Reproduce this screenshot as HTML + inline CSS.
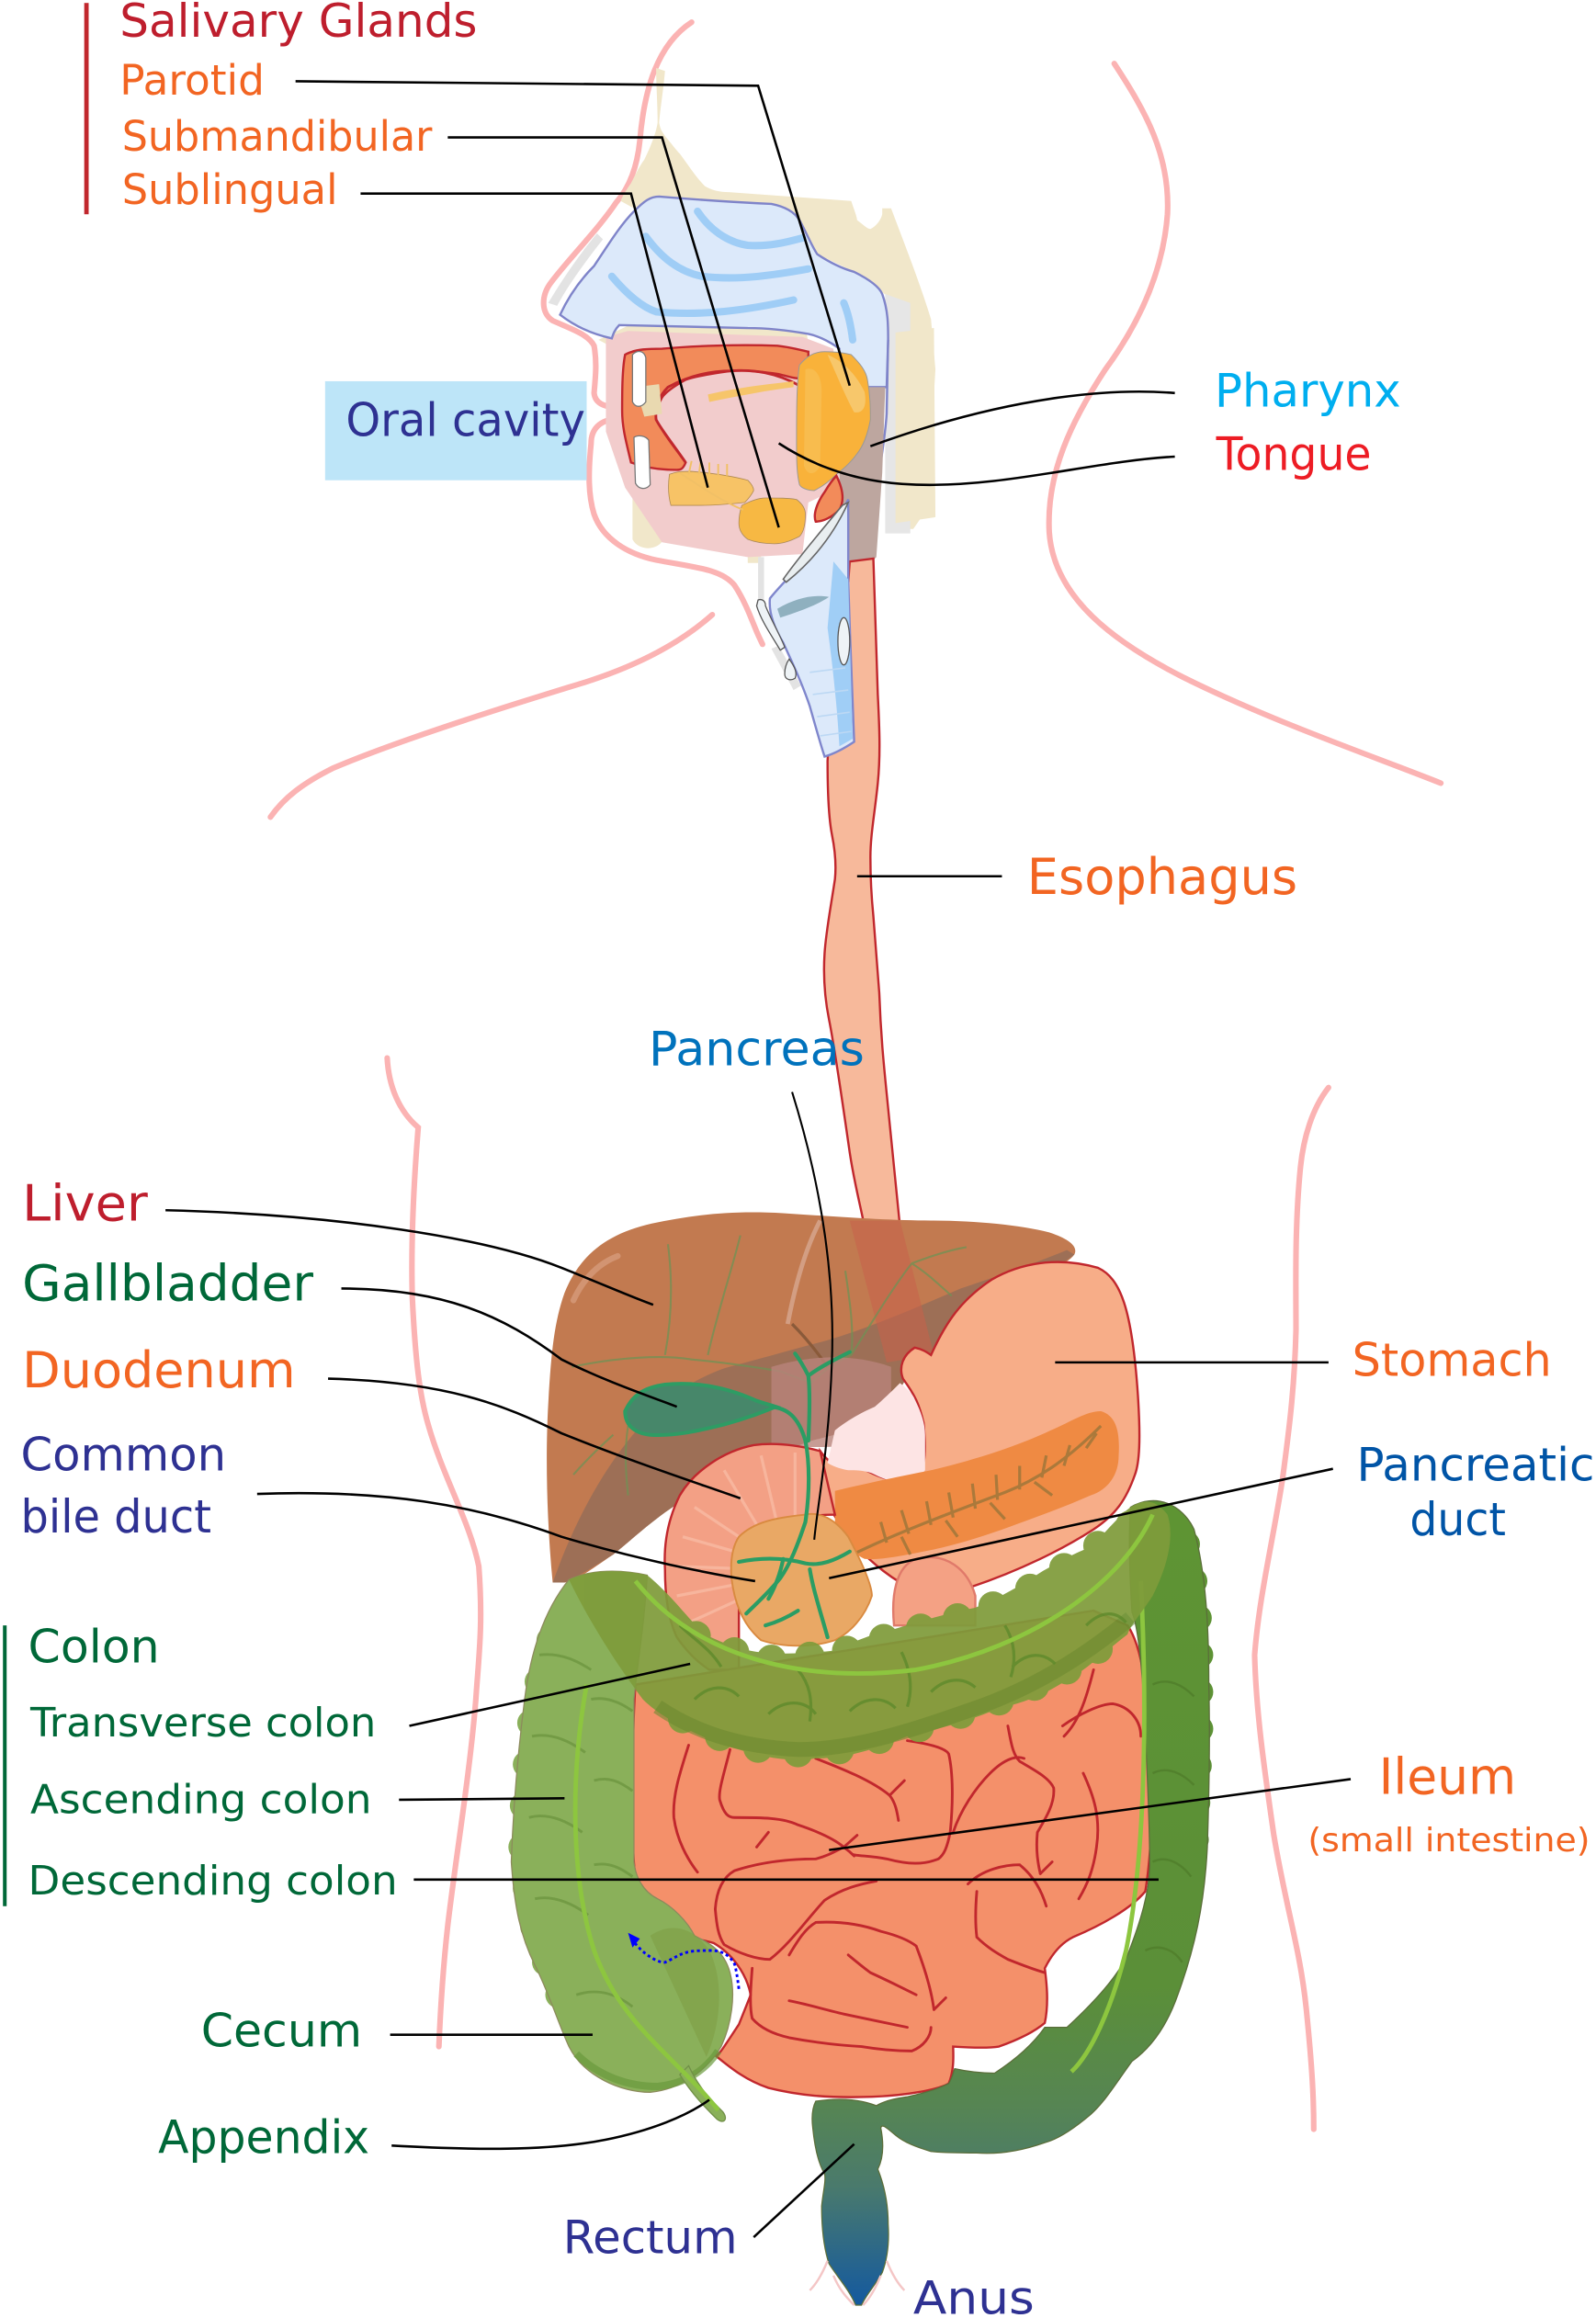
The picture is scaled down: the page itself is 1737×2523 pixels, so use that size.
<!DOCTYPE html>
<html><head><meta charset="utf-8">
<style>html,body{margin:0;padding:0;background:#fff;}svg{display:block}</style>
</head><body>
<svg xmlns="http://www.w3.org/2000/svg" width="1737" height="2523" viewBox="0 0 1080 1568.7" font-family="'DejaVu Sans','Liberation Sans',sans-serif">
<defs>
<linearGradient id="sig" gradientUnits="userSpaceOnUse" x1="0" y1="1020" x2="0" y2="1560">
<stop offset="0" stop-color="#5e9433"/>
<stop offset="0.6" stop-color="#5b8f38"/>
<stop offset="0.75" stop-color="#568553"/>
<stop offset="0.85" stop-color="#4a7a6c"/>
<stop offset="1" stop-color="#14599f"/>
</linearGradient>
</defs>

<!-- ===== body outlines ===== -->
<g fill="none" stroke="#fbb3b3" stroke-width="3.8" stroke-linecap="round">
<path d="M468,15 C445,30 436,60 433,95 C431,115 425,128 417,137 C405,155 385,175 373,191 C366,200 366,212 374,217 C385,222 398,226 402,234 C404,245 403,255 402,266 C403,276 415,275 419,277"/>
<path d="M419,283 C405,284 400,291 400,300 C398,320 398,335 402,348 C408,365 425,375 444,379 C470,384 488,385 497,396 C503,405 507,415 511,425 C513,430 515,434 516,436"/>
<path d="M482,416 C455,440 420,455 385,465 C320,485 260,505 225,520 C205,530 192,540 183,553"/>
<path d="M754,43 C775,75 792,105 790,145 C787,185 770,220 748,250 C725,285 708,320 710,360 C713,405 755,435 800,458 C860,488 930,512 975,530"/>
<path d="M262,716 C263,735 270,752 283,763 C280,800 278,840 279,878 C281,920 284,945 290,965 C300,1000 318,1030 324,1060 C327,1100 324,1120 322,1150 C318,1200 308,1260 303,1303 C300,1330 298,1360 297,1385"/>
<path d="M899,736 C888,750 882,770 880,790 C876,830 877,870 877,900 C876,940 872,970 868,1000 C862,1040 852,1080 849,1120 C850,1160 856,1200 862,1242 C870,1290 880,1320 884,1360 C888,1400 889,1420 889,1441"/>
</g>

<!-- ===== head ===== -->
<g fill="#f1e7ca">
<path d="M444,46 L450,48 C449,60 447,72 446,83 C447,88 448,89 450,92 C455,98 458,102 460,104 C466,112 471,120 477,126 C482,129 487,130 493,130 L576,136 C578,142 580,147 580,149 C584,152 587,155 589,155 C593,153 596,149 597,145 L597,141 L603,141 C612,165 622,190 630,216 L633,250 L630,300 L627,345 L618,358 L602,358 L600,200 L578,184 L553,172 L541,149 L522,138 L464,136 L446,133 L429,141 L420,136 C422,131 425,127 427,124 C430,118 433,112 436,108 C440,100 444,90 445,83 C445,70 444,58 444,46 Z"/>
<path d="M405,230 L430,218 L545,222 L548,236 L420,238 Z"/>
<path d="M428,320 L446,318 L449,365 C445,373 432,373 428,365 Z"/>
<path d="M506,367 L515,367 L515,381 L506,381 Z"/>
</g>
<path d="M371,205 C380,190 392,172 404,158 L408,162 C397,176 385,192 377,207 Z" fill="#e3e3e3"/>
<path d="M599,199 L616,205 L616,361 L599,361 Z" fill="#e6e6e6"/>
<path d="M606,225 L632,222 L633,350 L606,354 Z" fill="#f1e7ca"/>
<path d="M410,228 L425,224 L543,228 L564,236 L568,330 L547,340 L543,375 L506,377 L448,367 L423,330 L410,292 Z" fill="#f2cccc"/>
<path d="M379,213 C386,198 395,187 402,180 C412,165 420,152 429,143 C436,136 440,133 446,133 C470,135 500,137 522,138 C532,140 538,144 541,149 C546,158 549,166 553,172 C562,178 571,182 578,184 C588,189 595,194 597,199 C601,210 601,220 601,230 L600,262 L568,262 C566,250 567,242 568,236 C560,230 552,227 547,226 C530,223 515,222 506,222 L419,220 C416,223 415,226 414,229 C400,226 388,220 379,213 Z" fill="#dce9fa" stroke="#7f84c9" stroke-width="1.5"/>
<path d="M601,230 L600,280 C599,295 597,305 595,320 L591,377" fill="none" stroke="#7f84c9" stroke-width="1.5"/>
<g fill="none" stroke="#9fcdf6" stroke-width="5" stroke-linecap="round">
<path d="M472,143 C480,155 492,164 506,166 C520,167 532,164 543,161"/>
<path d="M437,160 C448,175 460,184 475,187 C500,190 525,186 547,182"/>
<path d="M414,187 C425,200 435,208 444,211 C475,214 505,210 537,203"/>
<path d="M571,205 C574,212 576,222 577,230"/>
</g>
<path d="M568,262 L599,262 L597,320 L593,377 C585,385 578,392 574,398 C570,390 566,380 565,372 L568,330 Z" fill="#bda69f"/>
<path d="M423,240 C430,236 440,236 448,236 C470,234 500,233 526,234 C535,235 542,237 547,238 L547,255 C540,258 532,254 526,253 C510,251 500,250 495,251 C480,253 470,255 464,257 C455,262 450,266 448,269 C445,275 443,280 444,284 C450,295 458,305 464,313 C462,318 460,318 458,318 C445,318 435,316 427,313 C424,300 421,290 421,278 C421,265 421,250 423,240 Z" fill="#f28b5a" stroke="#c1272d" stroke-width="1.5"/>
<path d="M464,313 C455,300 447,290 444,284 C443,275 446,268 452,262 C465,255 480,251 495,251 C510,250 525,252 541,261" fill="none" stroke="#c1272d" stroke-width="1.8"/>
<path d="M430,262 L446,260 L448,280 L436,282 Z" fill="#e9d9b0"/>
<path d="M479,267 C500,262 520,260 537,258 L537,262 C520,264 500,268 480,272 Z" fill="#f6c56a"/>
<path d="M428,240 C432,236 436,238 437,242 L437,272 C434,276 430,276 428,272 Z" fill="#fff" stroke="#777" stroke-width="0.8"/>
<path d="M429,296 C432,294 437,295 439,298 L440,328 C437,332 432,331 430,327 Z" fill="#fff" stroke="#777" stroke-width="0.8"/>
<path d="M541,247 C546,241 551,238 558,238 C566,238 572,239 576,240 C582,246 586,251 587,257 C589,268 589,276 589,284 C587,295 584,302 580,307 C575,314 570,318 566,321 C560,327 555,330 551,332 C546,332 542,330 541,328 C539,320 539,310 539,298 C539,280 539,260 541,247 Z" fill="#f9b23a" stroke="#999" stroke-width="0.6"/>
<path d="M560,240 C572,245 580,255 585,265 C587,275 584,280 578,279 C573,270 568,258 560,240 Z" fill="#f7c76b"/>
<path d="M545,250 C550,248 556,252 556,265 L555,315 C552,322 546,322 544,315 Z" fill="#f8c157" opacity="0.7"/>
<path d="M453,321 C458,319 463,319 468,319 C480,320 495,322 506,325 C509,328 510,330 510,332 C508,336 506,338 504,340 C495,341 485,342 473,342 C465,342 458,342 454,342 C452,335 452,328 453,321 Z" fill="#f7c366" stroke="#b08a50" stroke-width="0.5"/>
<path d="M502,342 C508,339 513,337 518,337 C527,337 533,337 539,338 C543,341 545,344 545,348 C545,355 544,360 541,363 C535,366 530,368 524,368 C517,368 511,367 506,365 C502,362 500,358 500,354 C500,350 501,345 502,342 Z" fill="#f7b843" stroke="#a98a60" stroke-width="0.5"/>
<g stroke="#f1c066" stroke-width="1.2" fill="none">
<path d="M468,312 L466,321 M474,313 L473,321 M480,313 L480,321 M486,314 L486,322 M492,314 L492,322"/>
<path d="M460,320 C475,330 490,340 503,345"/>
</g>
<path d="M566,322 C570,330 572,338 568,345 C563,350 557,353 552,353 C550,348 553,340 558,333 C561,328 564,324 566,322 Z" fill="#f28b5a" stroke="#c1272d" stroke-width="1.5"/>
<path d="M513,377 L517,377 L517,406 L513,406 Z M522,439 L527,437 L542,464 L537,467 Z" fill="#e3e3e3"/>
<!-- esophagus -->
<path d="M575,380 L591,378 L594,470 C595,490 596,510 594,530 C592,550 589,565 589,580 C589,598 590,610 591,620 C593,645 594,660 595,672 C596,700 598,720 600,740 C603,770 606,800 609,830 L585,830 C582,815 578,800 575,780 C570,745 565,710 561,690 C558,675 557,660 558,645 C559,630 562,615 565,595 C566,585 565,575 563,565 C561,555 560,540 560,515 C562,480 565,450 568,430 C570,410 572,400 574,394 Z" fill="#f7b99b" stroke="#c1272d" stroke-width="1.5"/>
<path d="M567,394 L575,394 L575,456 L567,456 Z" fill="#f2cccc"/>
<!-- trachea -->
<path d="M574,338 C568,350 560,362 548,375 C538,387 528,396 521,405 C520,415 524,425 530,435 C536,448 543,463 548,478 C552,492 555,503 558,512 C565,510 572,506 578,502 C577,470 575,430 574,394 Z" fill="#dce9fa" stroke="#7f86cc" stroke-width="1.5"/>
<path d="M564,380 L574,392 L577,500 L568,505 C566,470 562,440 560,425 Z" fill="#a0cef6"/>
<path d="M526,412 C538,405 550,402 561,404 C552,410 540,414 528,418 Z" fill="#8fb0bf"/>
<g fill="none" stroke="#bcd8f4" stroke-width="1">
<path d="M548,455 L572,452 M550,470 L574,467 M553,485 L575,482 M555,498 L576,495"/>
</g>
<path d="M530,392 C540,378 555,360 570,342 L574,340 C565,360 552,378 532,394 Z" fill="#e9eef0" stroke="#666" stroke-width="1"/>
<path d="M513,406 C516,405 518,407 518,410 C522,420 528,430 531,438 L528,440 C522,430 515,420 512,410 Z" fill="#eef3f6" stroke="#555" stroke-width="0.8"/>
<path d="M534,446 C537,450 540,455 538,459 C535,461 531,460 531,456 C531,452 532,449 534,446 Z" fill="#eef3f6" stroke="#555" stroke-width="0.8"/>
<ellipse cx="571" cy="434" rx="4" ry="16" fill="#eef3f6" stroke="#555" stroke-width="0.8"/>

<!-- ===== abdomen ===== -->
<path d="M374,1071 C370,1030 369,985 371,950 C373,915 375,895 382,875 C392,850 410,835 441,828 C470,822 495,819 530,821 C560,823 600,826 630,826 C660,826 690,829 710,834 C722,838 730,843 727,849 C722,856 705,862 690,868 C665,880 645,895 630,917 L612,935 L600,955 L576,968 L549,975 L522,985 C500,995 485,1005 468,1012 C445,1025 430,1040 415,1052 C400,1062 390,1070 382,1071 Z" fill="#c27a50"/>
<path d="M722,846 C700,855 680,862 650,872 C620,885 590,898 560,907 C530,915 505,922 490,926 C465,935 445,950 425,975 C405,1000 390,1030 380,1055 L374,1071 L382,1071 C395,1065 405,1058 415,1052 C430,1040 445,1025 468,1012 C485,1005 500,995 522,985 L549,975 L576,968 L600,955 L612,935 L630,917 C645,895 665,880 690,868 C705,862 720,855 727,849 Z" fill="#9d6f56"/>
<path d="M388,880 C395,865 405,855 418,850" fill="none" stroke="#d9a080" stroke-width="4" stroke-linecap="round" opacity="0.7"/>
<path d="M575,826 L609,826 L632,917 L600,922 Z" fill="#c8604a" opacity="0.55"/>
<g fill="none" stroke="#6f9255" stroke-width="1.3" opacity="0.75">
<path d="M387,925 C420,918 450,917 468,920 C490,922 510,925 528,928 L549,936"/>
<path d="M450,917 C455,890 455,865 452,842"/>
<path d="M479,917 C485,890 495,860 501,836"/>
<path d="M549,936 C560,925 570,920 576,917 C590,895 605,870 617,855 C630,850 642,846 654,844"/>
<path d="M617,855 C628,862 636,870 644,877"/>
<path d="M415,971 C405,980 395,990 388,998"/>
<path d="M425,965 C422,985 424,1000 425,1012"/>
<path d="M576,917 C578,900 575,880 572,860"/>
</g>
<path d="M533,896 C538,870 545,845 555,826" fill="none" stroke="#d7a890" stroke-width="3" opacity="0.8"/>
<path d="M536,896 C545,905 553,915 560,925" fill="none" stroke="#8a5a3a" stroke-width="2"/>
<path d="M522,925 C545,918 575,915 603,925 L603,975 C580,980 545,980 522,978 Z" fill="#b9837a" opacity="0.8"/>
<!-- stomach -->
<path d="M630,917 C640,895 650,880 671,866 C690,855 715,850 743,858 C758,865 766,885 770,944 C772,975 771,990 768,998 C762,1015 755,1025 740,1035 C720,1048 690,1063 657,1074 C640,1078 628,1078 619,1076 C605,1070 590,1058 578,1045 C570,1035 565,1025 555,1012 L555,982 C563,993 571,995 582,993 C590,997 598,1002 617,1004 C626,998 627,985 625,963 C622,950 619,944 611,933 C608,925 611,917 619,912 C624,913 627,915 630,917 Z" fill="#f7ad88" stroke="#c1272d" stroke-width="1.5"/>
<path d="M565,968 C575,960 585,955 592,952 C600,945 605,940 609,936 C614,940 618,944 619,947 C623,955 626,963 626,971 L626,995 C622,1000 616,1004 611,1004 C603,1003 596,1000 590,997 C584,995 579,995 574,995 C568,994 563,992 560,990 Z" fill="#fde4e4"/>
<path d="M565,1009 C590,1003 610,999 630,995 C660,988 690,978 711,968 C725,962 735,955 745,955 C755,958 758,968 757,985 C757,998 750,1008 738,1012 C720,1020 700,1027 684,1033 C665,1040 645,1046 630,1049 C610,1053 595,1056 585,1055 C575,1050 568,1040 565,1030 Z" fill="#ef8a43"/>
<g fill="none" stroke="#a0773a" stroke-width="2" opacity="0.85">
<path d="M571,1055 C600,1040 640,1025 680,1010 C705,1000 725,985 745,965"/>
<path d="M600,1044 L596,1030 M615,1038 L610,1022 M630,1032 L627,1016 M645,1027 L642,1010 M660,1021 L658,1004 M675,1015 L674,998 M690,1008 L690,992 M705,1000 L708,985 M720,992 L724,978 M735,980 L742,970 M610,1040 L616,1052 M640,1029 L648,1040 M670,1017 L680,1028 M700,1003 L712,1012"/>
</g>
<path d="M605,1100 C603,1080 606,1060 620,1055 C640,1050 655,1062 660,1080 L660,1100 Z" fill="#f4a184" stroke="#e07a6a" stroke-width="1.5"/>
<!-- duodenum -->
<path d="M555,982 C540,978 525,976 510,978 C490,982 470,995 460,1012 C452,1028 449,1045 450,1062 C450,1080 452,1095 458,1108 C465,1118 472,1125 480,1130 L500,1130 L500,1060 C505,1045 515,1035 530,1030 C545,1026 555,1025 565,1025 Z" fill="#f3a085" stroke="#c1272d" stroke-width="1.5"/>
<g stroke="#f8bba3" stroke-width="2" opacity="0.8">
<path d="M515,1050 L470,1020 M515,1055 L462,1040 M512,1062 L458,1060 M510,1070 L458,1080 M510,1078 L462,1100 M520,1045 L490,995 M528,1040 L515,985 M538,1035 L538,983"/>
</g>
<path d="M500,1040 C510,1030 525,1027 545,1025 C555,1023 565,1028 574,1040 C582,1055 590,1072 590,1080 C585,1095 575,1105 565,1110 C550,1115 530,1115 515,1110 C503,1100 497,1085 495,1068 C494,1055 496,1046 500,1040 Z" fill="#e9a865" stroke="#d98a40" stroke-width="1.2"/>
<path d="M423,955 C428,944 436,939 450,937 C470,935 490,938 512,948 C518,950 522,951 525,952 C515,956 505,960 490,964 C470,969 455,972 440,971 C430,970 423,965 423,955 Z" fill="#47876a" stroke="#2e9c64" stroke-width="2.5"/>
<g fill="none" stroke="#2a9d64" stroke-width="2.6" stroke-linecap="round">
<path d="M522,952 C532,953 540,958 545,975 C548,990 548,1010 545,1030 C540,1045 535,1058 528,1068 C520,1078 512,1085 505,1092"/>
<path d="M547,975 C548,955 548,940 547,931 C544,925 541,920 538,916"/>
<path d="M547,931 C555,925 565,920 575,915"/>
<path d="M500,1057 C515,1054 530,1054 545,1058 C555,1060 565,1056 575,1050"/>
<path d="M530,1055 C528,1065 524,1075 520,1082"/>
<path d="M548,1062 C550,1075 555,1090 560,1108"/>
<path d="M540,1090 C532,1095 525,1098 518,1100"/>
</g>

<!-- small intestine -->
<path d="M430,1140 C428,1170 428,1200 428,1230 C428,1260 430,1290 440,1305 C455,1310 470,1311 483,1315 C495,1322 505,1335 508,1350 L500,1370 C490,1385 486,1392 484,1391 C495,1400 505,1408 520,1413 C540,1418 560,1420 590,1419 C615,1418 635,1414 642,1410 C646,1400 645,1390 645,1385 C660,1386 670,1386 676,1385 C690,1380 700,1375 707,1369 C710,1355 708,1340 707,1332 C712,1322 718,1315 726,1311 C745,1303 765,1292 775,1280 C780,1250 781,1200 778,1168 C775,1130 770,1110 763,1100 L740,1090 L430,1140 Z" fill="#f4906a" stroke="#c1272d" stroke-width="1.5"/>
<g fill="none" stroke="#c1272d" stroke-width="1.8" stroke-linecap="round">
<path d="M466,1181 C460,1200 455,1215 456,1230 C458,1245 465,1258 472,1267"/>
<path d="M494,1184 C490,1200 486,1212 487,1218 C490,1228 493,1230 497,1230 C515,1230 530,1230 540,1235 C555,1240 565,1245 571,1250 C575,1253 577,1255 578,1256"/>
<path d="M552,1190 C570,1197 590,1205 602,1215 C606,1220 607,1226 608,1232"/>
<path d="M614,1178 C628,1180 640,1183 642,1187 C645,1200 645,1220 643,1240 C641,1250 639,1255 635,1258 C625,1262 615,1262 600,1258 C590,1256 580,1256 577,1255"/>
<path d="M682,1168 C684,1178 685,1187 690,1192 C700,1198 710,1203 713,1210 C714,1220 708,1230 702,1240 C701,1250 702,1260 704,1268"/>
<path d="M719,1168 C730,1160 745,1153 753,1153 C765,1155 772,1165 772,1175"/>
<path d="M484,1292 C485,1278 490,1270 497,1266 C515,1260 535,1258 552,1258 C560,1256 565,1253 571,1250"/>
<path d="M484,1292 C485,1303 486,1310 490,1316 C500,1322 512,1326 521,1326 C535,1315 545,1300 558,1286 C570,1278 582,1275 593,1273"/>
<path d="M534,1323 C540,1313 545,1305 552,1301 C570,1300 585,1303 596,1307 C608,1310 615,1313 620,1317 C625,1330 630,1345 632,1360"/>
<path d="M509,1332 C508,1345 507,1357 509,1366 C515,1373 525,1377 534,1379 C550,1382 565,1384 583,1385 C595,1387 608,1388 617,1388 C625,1385 630,1378 630,1372"/>
<path d="M534,1354 C545,1356 558,1360 571,1363 C585,1366 600,1369 614,1372"/>
<path d="M661,1280 C660,1292 660,1303 661,1311 C668,1318 675,1322 682,1326 C692,1330 700,1333 707,1335"/>
<path d="M574,1323 C580,1328 585,1332 589,1335 C600,1340 610,1345 620,1350"/>
<path d="M645,1240 C650,1225 660,1210 670,1200 C680,1190 688,1188 693,1190"/>
<path d="M733,1200 C740,1215 745,1230 742,1250 C740,1265 736,1275 730,1285"/>
<path d="M740,1130 C735,1150 730,1165 720,1175"/>
<path d="M655,1275 C665,1265 680,1262 690,1262 C700,1270 705,1280 708,1290"/>
<path d="M602,1215 L612,1205 M571,1250 L580,1242 M632,1360 L640,1352 M704,1268 L712,1260 M520,1240 L512,1250"/>
</g>

<!-- ascending colon + cecum -->
<g fill="#8ab05a">
<circle cx="385" cy="1085" r="9"/><circle cx="372" cy="1110" r="9"/><circle cx="364" cy="1138" r="9"/>
<circle cx="359" cy="1166" r="9"/><circle cx="356" cy="1194" r="9"/><circle cx="354" cy="1222" r="9"/>
<circle cx="353" cy="1250" r="9"/><circle cx="356" cy="1278" r="9"/><circle cx="361" cy="1304" r="9"/>
<circle cx="369" cy="1328" r="9"/><circle cx="378" cy="1350" r="9"/>
</g>
<path d="M385,1069 C372,1085 360,1110 355,1150 C350,1190 347,1230 346,1260 C348,1290 352,1310 362,1330 C372,1350 378,1370 385,1385 C395,1405 420,1416 440,1416 C460,1414 478,1402 488,1385 C495,1370 498,1350 494,1335 C490,1320 480,1315 470,1310 C465,1300 455,1290 445,1285 C435,1280 430,1270 429,1260 L429,1150 C432,1120 436,1100 438,1066 C420,1062 400,1062 385,1069 Z" fill="#8ab05a" stroke="#8c8a5c" stroke-width="0.8"/>
<g fill="none" stroke="#6e9842" stroke-width="1.8" opacity="0.85">
<path d="M365,1120 C380,1118 392,1125 400,1130 M360,1175 C375,1172 388,1180 396,1186 M358,1230 C372,1226 386,1234 394,1240 M362,1285 C376,1282 390,1290 398,1296 M400,1150 C410,1148 420,1152 428,1158 M402,1205 C412,1202 420,1206 428,1212 M402,1262 C412,1260 420,1264 428,1270 M390,1350 C405,1345 418,1350 428,1358"/>
</g>
<path d="M390,1390 C405,1405 425,1412 445,1412 C465,1410 478,1400 486,1388" fill="none" stroke="#6a9a3c" stroke-width="5" opacity="0.7"/>
<path d="M440,1310 C455,1300 470,1305 480,1320 C490,1340 488,1370 478,1392" fill="#7f9f45" opacity="0.6"/>
<path d="M466,1398 C473,1413 481,1421 489,1429 C493,1434 490,1438 485,1434 C477,1426 469,1418 460,1404 Z" fill="#8ab05a" stroke="#718f48" stroke-width="0.8"/>

<!-- descending + sigmoid + rectum -->
<g fill="url(#sig)">
<circle cx="803" cy="1045" r="9"/><circle cx="808" cy="1070" r="9"/><circle cx="811" cy="1095" r="9"/>
<circle cx="812" cy="1120" r="9"/><circle cx="812" cy="1145" r="9"/><circle cx="812" cy="1170" r="9"/>
<circle cx="811" cy="1195" r="9"/><circle cx="810" cy="1220" r="9"/><circle cx="809" cy="1245" r="9"/>
<circle cx="806" cy="1270" r="9"/><circle cx="801" cy="1295" r="9"/><circle cx="795" cy="1320" r="9"/>
</g>
<path d="M765,1020 C782,1010 800,1018 808,1035 C816,1065 818,1100 818,1140 C819,1180 818,1220 817,1250 C815,1290 808,1320 797,1350 C790,1370 780,1385 766,1395 C755,1410 748,1422 738,1431 C725,1442 715,1448 707,1450 C690,1456 675,1458 661,1457 C650,1457 640,1457 630,1456 C620,1453 612,1450 606,1445 C600,1440 597,1437 596,1440 C598,1450 598,1460 594,1468 C598,1478 601,1490 601,1505 C602,1520 600,1530 597,1538 C592,1547 586,1553 583,1560 L579,1560 C575,1550 566,1540 561,1532 C557,1520 556,1505 556,1493 C557,1483 559,1476 558,1471 C553,1463 551,1450 550,1440 C549,1432 550,1426 552,1422 C565,1420 580,1420 593,1425 C600,1421 608,1420 614,1419 C628,1416 636,1413 642,1410 C645,1405 645,1402 646,1400 C655,1402 665,1403 673,1403 C690,1392 700,1382 707,1372 C712,1372 717,1372 722,1372 C735,1360 755,1340 763,1323 C772,1300 778,1280 778,1261 C778,1230 776,1200 775,1168 C773,1130 770,1100 766,1091 C764,1060 764,1035 765,1020 Z" fill="url(#sig)" stroke="#5b6e3a" stroke-width="0.8"/>
<path d="M772,1070 C776,1150 776,1250 762,1320 C752,1360 738,1390 725,1402" fill="none" stroke="#8dc63f" stroke-width="3"/>
<path d="M780,1140 C790,1135 800,1140 808,1148 M780,1200 C790,1195 800,1200 808,1208 M780,1260 C790,1255 800,1262 806,1270 M775,1320 C785,1315 795,1320 800,1328" fill="none" stroke="#4e7a2a" stroke-width="1.5" opacity="0.7"/>
<g fill="none" stroke="#f4c6c6" stroke-width="1.5">
<path d="M560,1530 C556,1540 552,1546 548,1550 M564,1540 C568,1550 574,1556 578,1560 M600,1530 C604,1540 608,1546 612,1550 M596,1540 C592,1550 588,1556 584,1560"/>
</g>

<!-- transverse colon -->
<g opacity="0.93">
<g fill="#7f9c3b">
<circle cx="447" cy="1090" r="10"/><circle cx="471" cy="1107" r="10"/><circle cx="497" cy="1118" r="10"/>
<circle cx="522" cy="1123" r="10"/><circle cx="548" cy="1121" r="10"/><circle cx="573" cy="1117" r="10"/>
<circle cx="598" cy="1109" r="10"/><circle cx="623" cy="1102" r="10"/><circle cx="648" cy="1095" r="10"/>
<circle cx="672" cy="1087" r="10"/><circle cx="697" cy="1075" r="10"/><circle cx="720" cy="1061" r="10"/>
<circle cx="743" cy="1046" r="10"/><circle cx="765" cy="1032" r="10"/>
<circle cx="462" cy="1163" r="10"/><circle cx="487" cy="1175" r="10"/><circle cx="513" cy="1183" r="10"/>
<circle cx="540" cy="1186" r="10"/><circle cx="568" cy="1184" r="10"/><circle cx="595" cy="1177" r="10"/>
<circle cx="622" cy="1169" r="10"/><circle cx="650" cy="1160" r="10"/><circle cx="676" cy="1151" r="10"/>
<circle cx="700" cy="1141" r="10"/><circle cx="722" cy="1130" r="10"/><circle cx="743" cy="1116" r="10"/>
</g>
<path d="M385,1069 C400,1062 420,1062 438,1066 C455,1080 465,1095 477,1106 C495,1115 510,1119 528,1119 C545,1119 555,1118 565,1117 C580,1110 590,1106 600,1104 C620,1098 640,1092 660,1088 C680,1080 695,1070 706,1063 C720,1055 730,1050 738,1047 C750,1035 758,1025 765,1020 C775,1014 782,1015 790,1025 C795,1040 790,1060 780,1080 C770,1095 765,1100 763,1106 C745,1120 735,1130 722,1137 C705,1148 690,1153 676,1156 C655,1165 635,1170 614,1175 C590,1185 570,1190 552,1190 C535,1192 525,1190 515,1188 C495,1183 485,1180 475,1175 C460,1168 445,1160 435,1150 C420,1130 400,1100 385,1069 Z" fill="#7f9c3b"/>
<path d="M445,1155 C470,1172 500,1182 540,1184 C580,1184 620,1170 660,1156 C700,1142 735,1120 765,1095" fill="none" stroke="#628a2c" stroke-width="10" opacity="0.6"/>
</g>
<g fill="none" stroke="#5e8a2c" stroke-width="2" opacity="0.8">
<path d="M470,1150 C480,1140 492,1140 500,1148 M520,1160 C530,1150 545,1150 552,1160 M575,1158 C585,1148 598,1148 606,1156 M630,1145 C640,1135 652,1135 660,1142 M685,1128 C695,1118 706,1118 714,1126 M735,1100 C745,1090 755,1090 762,1098"/>
<path d="M460,1100 C470,1110 480,1115 488,1128 M540,1130 C548,1140 550,1150 548,1165 M610,1118 C616,1130 618,1142 614,1155 M680,1100 C686,1110 688,1122 684,1135"/>
</g>
<path d="M430,1070 C470,1120 540,1140 620,1130 C700,1115 760,1070 780,1025" fill="none" stroke="#8dc63f" stroke-width="3"/>
<path d="M397,1140 C386,1200 386,1270 402,1320 C420,1370 455,1390 486,1428" fill="none" stroke="#8dc63f" stroke-width="3"/>

<!-- blue dotted arrow -->
<path d="M500,1346 C499,1338 498,1332 497,1329 C493,1322 487,1320 481,1320 C475,1320 470,1320 466,1321 C460,1322 455,1326 450,1328 C445,1328 441,1325 438,1323 C434,1320 431,1317 429,1314" fill="none" stroke="#0000ff" stroke-width="1.8" stroke-dasharray="2 2"/>
<path d="M425,1308 L433,1312 L428,1318 Z" fill="#0000ff"/>

<!-- ===== labels ===== -->
<rect x="220" y="258" width="177" height="67" fill="#bde5f8"/>
<rect x="57" y="2" width="3" height="143" fill="#c1272d"/>
<rect x="2" y="1100" width="2.5" height="190" fill="#006838"/>

<g fill="none" stroke="#000" stroke-width="1.6">
<path d="M200,55 L513,58 L575,261"/>
<path d="M303,93 L448,93 L527,357"/>
<path d="M244,131 L427,131 L479,330"/>
<path d="M795,266 C760,263 690,265 589,302"/>
<path d="M795,309 C740,312 680,330 620,328 C580,327 550,315 527,300"/>
<path d="M580,593 L678,593"/>
<path d="M536,739 C555,800 565,860 563,920 C561,980 553,1020 551,1042" stroke-width="1.3"/>
<path d="M112,819 C230,822 330,838 380,858 C410,870 428,878 442,883"/>
<path d="M231,872 C300,872 340,890 380,920 C410,935 440,945 458,952"/>
<path d="M222,933 C300,935 340,950 380,970 C430,990 470,1003 501,1014"/>
<path d="M174,1011 C260,1008 320,1018 380,1040 C430,1055 480,1065 511,1070"/>
<path d="M714,922 L899,922"/>
<path d="M902,994 L561,1068"/>
<path d="M277,1168 L467,1126"/>
<path d="M270,1218 L382,1217"/>
<path d="M280,1272 L784,1272"/>
<path d="M914,1204 L561,1252"/>
<path d="M264,1377 L401,1377"/>
<path d="M265,1452 C320,1455 370,1456 410,1448 C440,1442 465,1432 480,1421"/>
<path d="M510,1514 L578,1451"/>
</g>

<g>
<text x="81" y="25" font-size="31" fill="#be1e2d" textLength="242" lengthAdjust="spacingAndGlyphs">Salivary Glands</text>
<text x="81" y="64" font-size="28" fill="#f26522" textLength="98" lengthAdjust="spacingAndGlyphs">Parotid</text>
<text x="82.5" y="102" font-size="28" fill="#f26522" textLength="210" lengthAdjust="spacingAndGlyphs">Submandibular</text>
<text x="82.5" y="138" font-size="28" fill="#f26522" textLength="146" lengthAdjust="spacingAndGlyphs">Sublingual</text>
<text x="234" y="295" font-size="31" fill="#2e3192" textLength="162" lengthAdjust="spacingAndGlyphs">Oral cavity</text>
<text x="822" y="275" font-size="31" fill="#00aeef" textLength="126" lengthAdjust="spacingAndGlyphs">Pharynx</text>
<text x="823" y="318" font-size="31" fill="#ed1c24" textLength="105" lengthAdjust="spacingAndGlyphs">Tongue</text>
<text x="695" y="605" font-size="34" fill="#f26522" textLength="183" lengthAdjust="spacingAndGlyphs">Esophagus</text>
<text x="439" y="721" font-size="32" fill="#0072bc" textLength="146" lengthAdjust="spacingAndGlyphs">Pancreas</text>
<text x="15" y="826" font-size="34" fill="#be1e2d" textLength="85" lengthAdjust="spacingAndGlyphs">Liver</text>
<text x="15" y="880" font-size="34" fill="#006838" textLength="197" lengthAdjust="spacingAndGlyphs">Gallbladder</text>
<text x="15" y="939" font-size="34" fill="#f26522" textLength="185" lengthAdjust="spacingAndGlyphs">Duodenum</text>
<text x="14" y="995" font-size="31" fill="#2e3192" textLength="139" lengthAdjust="spacingAndGlyphs">Common</text>
<text x="14" y="1037" font-size="31" fill="#2e3192" textLength="129" lengthAdjust="spacingAndGlyphs">bile duct</text>
<text x="915" y="931" font-size="31" fill="#f26522" textLength="135" lengthAdjust="spacingAndGlyphs">Stomach</text>
<text x="918" y="1002" font-size="31" fill="#0054a6" textLength="161" lengthAdjust="spacingAndGlyphs">Pancreatic</text>
<text x="954" y="1039" font-size="31" fill="#0054a6" textLength="65" lengthAdjust="spacingAndGlyphs">duct</text>
<text x="19" y="1125" font-size="31" fill="#006838" textLength="89" lengthAdjust="spacingAndGlyphs">Colon</text>
<text x="20.5" y="1175" font-size="27" fill="#006838" textLength="234" lengthAdjust="spacingAndGlyphs">Transverse colon</text>
<text x="20.5" y="1227" font-size="27" fill="#006838" textLength="231" lengthAdjust="spacingAndGlyphs">Ascending colon</text>
<text x="19" y="1282" font-size="27" fill="#006838" textLength="250" lengthAdjust="spacingAndGlyphs">Descending colon</text>
<text x="933" y="1214" font-size="34" fill="#f26522" textLength="93" lengthAdjust="spacingAndGlyphs">Ileum</text>
<text x="885" y="1253" font-size="22" fill="#f26522" textLength="191" lengthAdjust="spacingAndGlyphs">(small intestine)</text>
<text x="136" y="1385" font-size="31" fill="#006838" textLength="109" lengthAdjust="spacingAndGlyphs">Cecum</text>
<text x="107" y="1457" font-size="31" fill="#006838" textLength="143" lengthAdjust="spacingAndGlyphs">Appendix</text>
<text x="381" y="1525" font-size="31" fill="#2e3192" textLength="118" lengthAdjust="spacingAndGlyphs">Rectum</text>
<text x="618" y="1566" font-size="31" fill="#2e3192" textLength="82" lengthAdjust="spacingAndGlyphs">Anus</text>
</g>
</svg>
</body></html>
